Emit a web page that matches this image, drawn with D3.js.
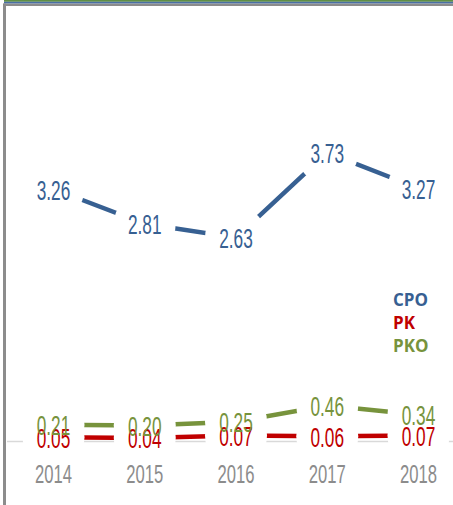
<!DOCTYPE html>
<html>
<head>
<meta charset="utf-8">
<script src="https://cdn.jsdelivr.net/npm/d3@7"></script>
<style>
  body { margin: 0; background: #fff; }
  svg { display: block; }
</style>
</head>
<body>
<div id="chart"></div>
<script>
// chart data
var years = ["2014", "2015", "2016", "2017", "2018"];
var cpo = [3.26, 2.81, 2.63, 3.73, 3.27];
var pk = [0.05, 0.04, 0.07, 0.06, 0.07];
var pko = [0.21, 0.20, 0.25, 0.46, 0.34];
var seriesNames = ["CPO", "PK", "PKO"];

var width = 453, height = 505;
var colors = {CPO: "#376092", PK: "#c00000", PKO: "#77933c"};

var svg = d3.select("#chart").append("svg")
    .attr("width", width)
    .attr("height", height);

// frame bits (cropped slide border)
svg.append("rect").attr("x", 4).attr("y", 0).attr("width", width - 4).attr("height", 1.8).attr("fill", "#5f8f45");
svg.append("rect").attr("x", 4).attr("y", 1.8).attr("width", width - 4).attr("height", 1.8).attr("fill", "#4a6fa5");
svg.append("rect").attr("x", 3).attr("y", 3.6).attr("width", width - 3).attr("height", 2.4).attr("fill", "#8c8c8c");
svg.append("rect").attr("x", 3).attr("y", 3.6).attr("width", 3).attr("height", height).attr("fill", "#8c8c8c");

// scales
var x = d3.scalePoint()
    .domain(years)
    .range([53.5, 418.5]);
var y = d3.scaleLinear()
    .domain([0, 4])
    .range([441, 441 - 4 * 77.3]);

// zero axis line
svg.append("line")
    .attr("x1", 7).attr("x2", width)
    .attr("y1", y(0) + 0.5).attr("y2", y(0) + 0.5)
    .attr("stroke", "#d9d9d9")
    .attr("stroke-width", 1.5);

var data = [
  {name: "CPO", values: cpo},
  {name: "PK", values: pk},
  {name: "PKO", values: pko}
];

var line = d3.line()
    .x(function(d, i) { return x(years[i]); })
    .y(function(d) { return y(d); });

// lines + white markers (markers hide the line near each point)
data.forEach(function(s) {
  svg.append("path")
      .datum(s.values)
      .attr("fill", "none")
      .attr("stroke", colors[s.name])
      .attr("stroke-width", 4.5)
      .attr("d", line);

  svg.selectAll(".m-" + s.name)
      .data(s.values)
    .enter().append("circle")
      .attr("class", "m-" + s.name)
      .attr("cx", function(d, i) { return x(years[i]); })
      .attr("cy", function(d) { return y(d); })
      .attr("r", 31)
      .attr("fill", "#fff");
});

// data labels
var sx = 0.64;
data.forEach(function(s) {
  svg.selectAll(".l-" + s.name)
      .data(s.values)
    .enter().append("text")
      .attr("class", "l-" + s.name)
      .attr("transform", function(d, i) {
        return "translate(" + x(years[i]) + "," + (y(d) + 1) + ") scale(" + sx + ",1)";
      })
      .attr("text-anchor", "middle")
      .attr("dominant-baseline", "central")
      .style("font-family", "Liberation Sans, sans-serif")
      .style("font-size", "27px")
      .attr("fill", colors[s.name])
      .text(function(d) { return d.toFixed(2); });
});

// year labels
svg.selectAll(".year")
    .data(years)
  .enter().append("text")
    .attr("class", "year")
    .attr("transform", function(d) { return "translate(" + x(d) + ",474) scale(" + sx + ",1)"; })
    .attr("text-anchor", "middle")
    .attr("dominant-baseline", "central")
    .style("font-family", "Liberation Sans, sans-serif")
    .style("font-size", "26px")
    .attr("fill", "#8c8c8c")
    .text(function(d) { return d; });

// legend
var legend = svg.selectAll(".legend")
    .data(seriesNames)
  .enter().append("text")
    .attr("class", "legend")
    .attr("x", 393)
    .attr("y", function(d, i) { return 306 + i * 23; })
    .style("font-family", "Open Sans, sans-serif")
    .style("font-weight", "bold")
    .style("font-size", "17px")
    .attr("fill", function(d) { return colors[d]; })
    .text(function(d) { return d; });
</script>
</body>
</html>
